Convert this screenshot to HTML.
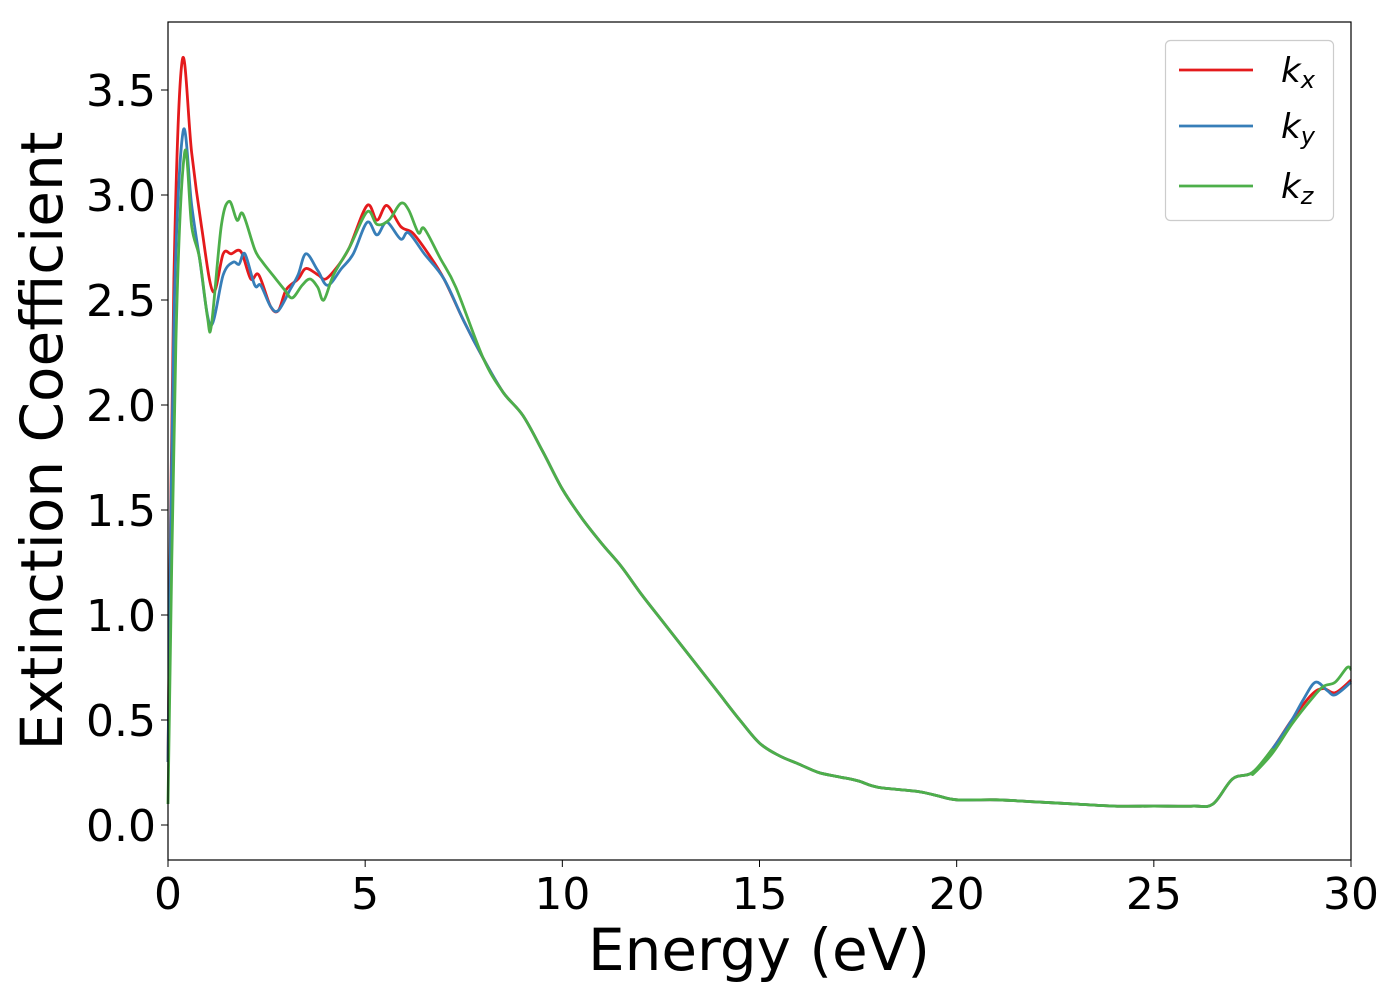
<!DOCTYPE html>
<html><head><meta charset="utf-8"><style>
body{margin:0;background:#fff;}
svg{display:block;font-family:"DejaVu Sans","Liberation Sans",sans-serif;}
</style></head><body>
<svg id="chart" width="1400" height="1000" viewBox="0 0 1400 1000">
<rect x="0" y="0" width="1400" height="1000" fill="#fff"/>
<g id="plot"></g>
<rect x="168" y="22" width="1183" height="838" fill="none" stroke="#000" stroke-width="1.2"/>
<g id="xticks"></g><g id="yticks"></g>
<text x="759" y="970" font-size="58" text-anchor="middle">Energy (eV)</text>
<text transform="translate(62,441) rotate(-90)" font-size="58" text-anchor="middle">Extinction Coefficient</text>
<g>
<rect x="1165.5" y="40.5" width="168" height="180" rx="5" fill="#fff" stroke="#ccc" stroke-width="1.2"/>
<line x1="1179" y1="70" x2="1253" y2="70" stroke="#e41a1c" stroke-width="2.8"/>
<text x="1281" y="82" font-size="34" font-style="italic">k<tspan font-size="24" dy="6">x</tspan></text>
<line x1="1179" y1="126" x2="1253" y2="126" stroke="#377eb8" stroke-width="2.8"/>
<text x="1281" y="138" font-size="34" font-style="italic">k<tspan font-size="24" dy="6">y</tspan></text>
<line x1="1179" y1="186" x2="1253" y2="186" stroke="#4daf4a" stroke-width="2.8"/>
<text x="1281" y="198" font-size="34" font-style="italic">k<tspan font-size="24" dy="6">z</tspan></text>
</g>
</svg>
<script>
const xTickLabels=["0","5","10","15","20","25","30"];
const xTickValues=[0,5,10,15,20,25,30];
const yTickLabels=["0.0","0.5","1.0","1.5","2.0","2.5","3.0","3.5"];
const yTickValues=[0,0.5,1,1.5,2,2.5,3,3.5];
const tail=[[7.0,2.6],[7.5,2.4],[8,2.22],[8.5,2.06],[9,1.95],[9.5,1.78],[10,1.6],[10.5,1.46],[11,1.34],[11.5,1.23],[12,1.1],[12.5,0.98],[13,0.86],[13.5,0.74],[14,0.62],[14.5,0.5],[15,0.39],[15.5,0.33],[16,0.29],[16.5,0.25],[17,0.23],[17.5,0.21],[18,0.18],[19,0.16],[19.5,0.14],[20,0.12],[21,0.12],[22,0.11],[23,0.1],[24,0.09],[25,0.09],[26,0.09],[26.5,0.1],[27,0.22],[27.5,0.25],[28,0.36],[28.5,0.5]];
const kxSeries=[[0,0.3],[0.15,2.6],[0.36,3.64],[0.6,3.2],[0.85,2.85],[1.14,2.54],[1.4,2.72],[1.6,2.72],[1.85,2.73],[2.1,2.6],[2.3,2.62],[2.6,2.47],[2.8,2.45],[3.0,2.55],[3.3,2.6],[3.5,2.65],[3.8,2.62],[4.0,2.6],[4.3,2.66],[4.6,2.75],[5.05,2.95],[5.3,2.88],[5.55,2.95],[5.9,2.85],[6.2,2.82],[6.6,2.72]].concat(tail,[[29,0.62],[29.3,0.65],[29.6,0.63],[30,0.69]]);
const kySeries=[[0,0.3],[0.15,2.4],[0.38,3.3],[0.6,2.95],[0.8,2.7],[1.08,2.38],[1.4,2.62],[1.65,2.68],[1.8,2.67],[1.95,2.72],[2.2,2.57],[2.35,2.57],[2.6,2.47],[2.8,2.45],[3.1,2.55],[3.3,2.62],[3.5,2.72],[3.8,2.64],[4.05,2.57],[4.4,2.65],[4.7,2.72],[5.05,2.87],[5.3,2.81],[5.55,2.87],[5.9,2.79],[6.1,2.82],[6.5,2.72]].concat(tail,[[28.8,0.6],[29.1,0.68],[29.4,0.64],[29.6,0.62],[30,0.68]]);
const kzSeries=[[0,0.1],[0.2,2.3],[0.42,3.2],[0.6,2.85],[0.8,2.7],[1.0,2.42],[1.1,2.38],[1.35,2.85],[1.55,2.97],[1.75,2.88],[1.9,2.91],[2.2,2.74],[2.4,2.68],[2.65,2.62],[2.95,2.55],[3.15,2.51],[3.4,2.57],[3.6,2.6],[3.8,2.56],[3.95,2.5],[4.2,2.62],[4.6,2.75],[5.05,2.92],[5.3,2.86],[5.6,2.88],[5.9,2.96],[6.1,2.93],[6.35,2.82],[6.5,2.84],[6.9,2.7],[7.3,2.56]].concat(tail.slice(2,36),[[27.5,0.24],[28,0.34],[28.5,0.48],[29,0.6],[29.3,0.66],[29.6,0.68],[29.9,0.75],[30,0.74]]);
const X=v=>168+v*1183/30;
const Y=v=>825-v*210;
const NS="http://www.w3.org/2000/svg";
function pathFor(pts){
  const p=pts.map(d=>[X(d[0]),Y(d[1])]);
  let s="M"+p[0][0].toFixed(1)+","+p[0][1].toFixed(1);
  for(let i=0;i<p.length-1;i++){
    const p0=p[Math.max(i-1,0)],p1=p[i],p2=p[i+1],p3=p[Math.min(i+2,p.length-1)];
    const c1=[p1[0]+(p2[0]-p0[0])/6,p1[1]+(p2[1]-p0[1])/6];
    const c2=[p2[0]-(p3[0]-p1[0])/6,p2[1]-(p3[1]-p1[1])/6];
    s+="C"+c1.map(v=>v.toFixed(1)).join(",")+" "+c2.map(v=>v.toFixed(1)).join(",")+" "+p2[0].toFixed(1)+","+p2[1].toFixed(1);
  }
  return s;
}
const plot=document.getElementById("plot");
[[kxSeries,"#e41a1c","series-kx"],[kySeries,"#377eb8","series-ky"],[kzSeries,"#4daf4a","series-kz"]].forEach(s=>{
  const el=document.createElementNS(NS,"path");
  el.setAttribute("d",pathFor(s[0]));
  el.setAttribute("fill","none");
  el.setAttribute("stroke",s[1]);
  el.setAttribute("stroke-width","2.8");
  
  
  plot.appendChild(el);
});
const xt=document.getElementById("xticks");
xTickValues.forEach((v,i)=>{
  const l=document.createElementNS(NS,"line");
  l.setAttribute("x1",X(v));l.setAttribute("x2",X(v));l.setAttribute("y1",860);l.setAttribute("y2",867);
  l.setAttribute("stroke","#000");
  
  
  xt.appendChild(l);
  const t=document.createElementNS(NS,"text");
  t.setAttribute("x",X(v));t.setAttribute("y",909);t.setAttribute("font-size","44");t.setAttribute("text-anchor","middle");
  t.textContent=xTickLabels[i];
  
  
  xt.appendChild(t);
});
const yt=document.getElementById("yticks");
yTickValues.forEach((v,i)=>{
  const l=document.createElementNS(NS,"line");
  l.setAttribute("x1",161);l.setAttribute("x2",168);l.setAttribute("y1",Y(v));l.setAttribute("y2",Y(v));
  l.setAttribute("stroke","#000");
  
  
  yt.appendChild(l);
  const t=document.createElementNS(NS,"text");
  t.setAttribute("x",156);t.setAttribute("y",Y(v)+16);t.setAttribute("font-size","44");t.setAttribute("text-anchor","end");
  t.textContent=yTickLabels[i];
  
  
  yt.appendChild(t);
});
</script>
</body></html>
